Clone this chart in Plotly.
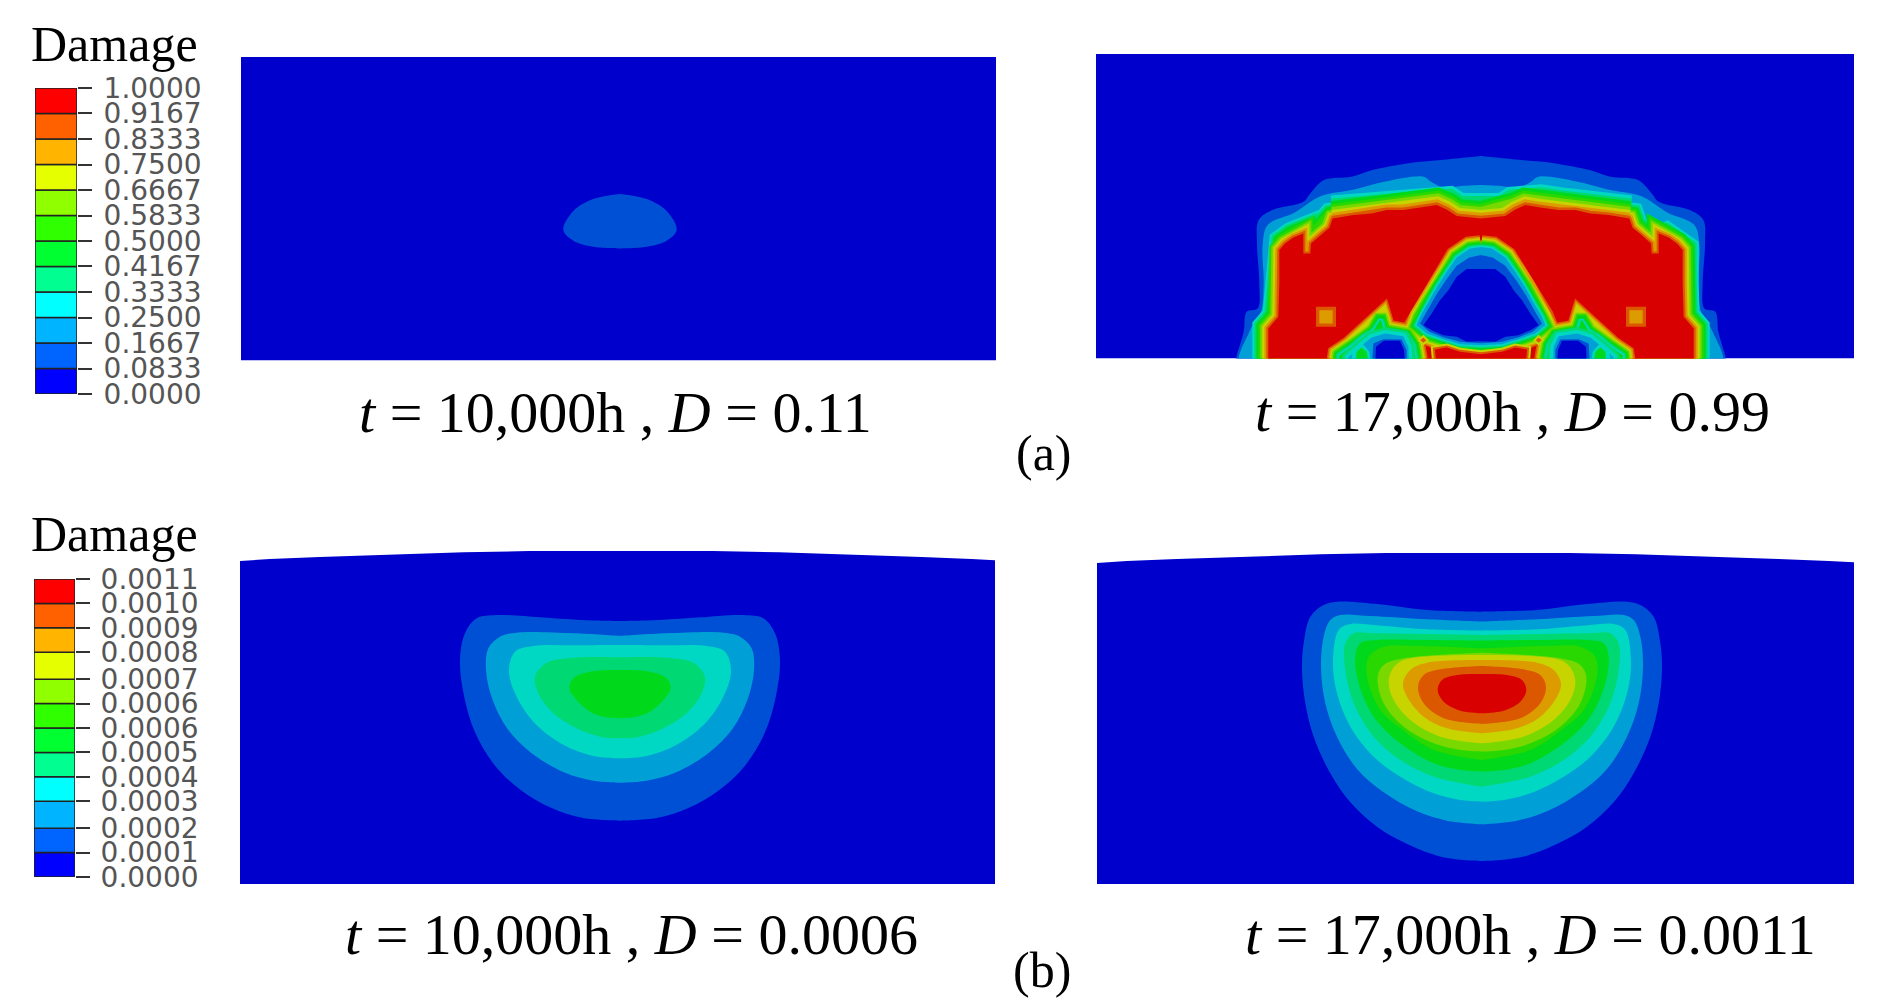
import plotly.graph_objects as go

W, H = 1877, 1008

# band colours, lowest first
legend_colors = ["#0000ff", "#0064ff", "#00b4ff", "#00ffff", "#00ff90", "#00ff30",
                 "#30ff00", "#90ff00", "#e6ff00", "#ffb400", "#ff6000", "#ff0000"]
band_colors = ["#0000cd", "#0050d6", "#00a0d6", "#00d8c4", "#00d874", "#00d81c",
               "#28d800", "#78d800", "#c8d400", "#dc9c00", "#dc5800", "#d80000"]

ticks_a = [0.0, 0.0833, 0.1667, 0.25, 0.3333, 0.4167, 0.5, 0.5833, 0.6667, 0.75, 0.8333, 0.9167, 1.0]
labels_a = ["0.0000", "0.0833", "0.1667", "0.2500", "0.3333", "0.4167", "0.5000",
            "0.5833", "0.6667", "0.7500", "0.8333", "0.9167", "1.0000"]
ticks_b = [0.0, 0.00009, 0.00018, 0.00028, 0.00037, 0.00046, 0.00055,
           0.00064, 0.00073, 0.00083, 0.00092, 0.00101, 0.0011]
labels_b = ["0.0000", "0.0001", "0.0002", "0.0003", "0.0004", "0.0005", "0.0006",
            "0.0006", "0.0007", "0.0008", "0.0009", "0.0010", "0.0011"]

# contour outlines: (distance from the symmetry line, height above the base)
a1_level1 = [(0, 499), (80, 484), (140, 448), (170, 391), (140, 359), (80, 341), (0, 336)]

a2_red = [(638, -30), (638, 0), (638, 90), (608, 125), (605, 225), (605, 325), (588, 345), (563, 363),
          (533, 375), (533, 315), (512, 315), (510, 345), (480, 372), (455, 392), (445, 420), (383, 430),
          (328, 435), (283, 445), (233, 445), (178, 453), (133, 460), (103, 447), (73, 427), (0, 420)]
a2_red_top = [(445, 420), (383, 430), (328, 435), (283, 445), (233, 445), (178, 453), (133, 460),
              (103, 447), (73, 427), (0, 420)]
a2_dome1 = [(0, 607), (120, 595), (223, 585), (326, 565), (388, 545), (471, 535), (512, 495), (533, 470),
            (626, 445), (667, 415), (672, 344), (665, 225), (670, 150), (703, 140), (712, 80), (735, 0), (740, -30)]
a2_dome2 = [(0, 520), (60, 517), (110, 512), (150, 530), (172, 545), (290, 530), (380, 507), (480, 487),
            (560, 437), (640, 400), (655, 340), (652, 225), (660, 140), (695, 80), (720, -30)]
a2_hole_l2 = [(0, 334), (33, 330), (73, 303), (103, 260), (133, 213), (158, 167), (183, 125), (193, 100),
              (163, 75), (113, 58), (63, 43), (0, 40)]
a2_hole_l1 = [(0, 310), (35, 303), (73, 278), (105, 235), (135, 190), (160, 145), (183, 105), (155, 80),
              (113, 64), (63, 50), (0, 46)]
a2_hole_core = [(0, 268), (43, 268), (73, 245), (98, 205), (123, 175), (148, 135), (173, 100), (148, 85),
                (113, 70), (73, 65), (43, 50), (0, 52)]
a2_side = [(432, -35), (425, 10), (388, 35), (353, 65), (323, 82), (304, 115), (300, 115), (290, 82),
           (253, 77), (223, 70), (203, 40), (190, -35)]
a2_side_l2 = [(403, -35), (398, 3), (363, 35), (328, 63), (288, 75), (233, 67), (218, 35), (215, -35)]
a2_side_l1 = [(328, -35), (323, 45), (293, 58), (238, 57), (223, 25), (223, -35)]
a2_side_core = [(318, -35), (315, 35), (291, 53), (243, 53), (231, 25), (226, -35)]
a2_bump_l3 = [(393, -35), (385, 20), (360, 50), (335, 20), (328, -35)]
a2_bump_l5 = [(378, -35), (373, 20), (358, 33), (343, 20), (333, -35)]
a2_island = [(133, -30), (138, 27), (103, 33), (63, 20), (0, 13)]
a2_diamond_l8 = [(173, 71), (190, 55), (173, 39), (156, 55)]
a2_diamond_l10 = [(173, 63), (182, 55), (173, 47), (164, 55)]
a2_square_l10 = [(435, 95), (495, 95), (495, 155), (435, 155)]
a2_square_l9 = [(445, 105), (485, 105), (485, 145), (445, 145)]

b1_levels = [
    [(0, 789), (120, 792), (240, 800), (370, 807), (430, 797), (465, 752), (480, 672), (468, 565), (435, 455),
     (375, 355), (295, 280), (205, 228), (110, 198), (0, 190)],
    [(0, 744), (140, 752), (310, 754), (360, 742), (395, 707), (402, 642), (383, 555), (335, 462), (255, 385),
     (165, 334), (80, 310), (0, 304)],
    [(0, 717), (140, 716), (260, 714), (315, 697), (333, 642), (315, 572), (260, 487), (170, 418), (80, 384), (0, 377)],
    [(0, 680), (140, 679), (220, 664), (255, 622), (245, 572), (200, 512), (130, 467), (60, 442), (0, 437)],
    [(0, 642), (90, 637), (140, 617), (152, 587), (130, 552), (90, 517), (40, 500), (0, 497)],
]
b2_levels = [
    [(0, 817), (165, 822), (315, 840), (435, 847), (475, 837), (515, 802), (535, 722), (540, 642), (530, 542),
     (505, 442), (455, 332), (395, 245), (315, 172), (235, 125), (135, 85), (55, 72), (0, 69)],
    [(0, 787), (165, 794), (335, 804), (425, 807), (455, 792), (475, 742), (483, 652), (470, 542), (435, 442),
     (375, 345), (295, 275), (195, 218), (105, 190), (0, 179)],
    [(0, 760), (165, 764), (325, 777), (395, 780), (430, 762), (447, 662), (435, 572), (395, 472), (325, 382),
     (245, 322), (145, 272), (65, 252), (0, 247)],
    [(0, 747), (325, 752), (385, 752), (410, 722), (410, 642), (385, 542), (325, 442), (245, 372), (145, 322), (0, 292)],
    [(0, 730), (165, 732), (315, 732), (365, 722), (380, 682), (370, 602), (325, 502), (245, 422), (145, 362), (65, 342), (0, 337)],
    [(0, 707), (215, 715), (295, 712), (340, 682), (345, 622), (305, 522), (245, 467), (145, 402), (0, 372)],
    [(0, 694), (235, 677), (295, 657), (313, 622), (295, 542), (235, 472), (145, 422), (65, 402), (0, 397)],
    [(0, 687), (235, 672), (270, 642), (280, 602), (265, 552), (215, 492), (125, 442), (0, 422)],
    [(0, 672), (165, 664), (215, 642), (237, 602), (225, 562), (175, 502), (105, 467), (0, 452)],
    [(0, 654), (125, 644), (175, 627), (192, 592), (175, 542), (115, 497), (0, 480)],
    [(0, 630), (75, 627), (120, 612), (133, 582), (115, 547), (65, 520), (0, 512)],
]

# top surface of the (b) models
b1_top_x = [-1140, -1051, -901, -717, -607, -469, -273, 278, 477, 612, 725, 820, 905, 1055, 1125]
b1_top_h = [969, 975, 981, 987, 991, 995, 999, 999, 995, 991, 987, 985, 981, 975, 971]
b2_top_x = [-1155, -1066, -916, -732, -622, -484, -288, 263, 462, 597, 710, 805, 890, 1040, 1116]
b2_top_h = [963, 969, 975, 981, 985, 989, 993, 993, 989, 985, 981, 979, 975, 969, 965]

serif = "Liberation Serif"
captions = [("<i>t</i> = 10,000h , <i>D</i> = 0.11", 615, 412),
            ("<i>t</i> = 17,000h , <i>D</i> = 0.99", 1512, 411),
            ("<i>t</i> = 10,000h , <i>D</i> = 0.0006", 631, 934),
            ("<i>t</i> = 17,000h , <i>D</i> = 0.0011", 1530, 934)]
small_labels = [("(a)", 1044, 453, 50), ("(b)", 1042, 970, 50),
                ("Damage", 114, 44, 50), ("Damage", 114, 534, 50)]


def mirror(points):
    xs = [-p[0] for p in points] + [p[0] for p in reversed(points)]
    ys = [p[1] for p in points] + [p[1] for p in reversed(points)]
    return xs + xs[:1], ys + ys[:1]


def both_sides(points):
    xs = [-p[0] for p in points] + [-points[0][0], None] + [p[0] for p in points] + [points[0][0]]
    ys = [p[1] for p in points] + [points[0][1], None] + [p[1] for p in points] + [points[0][1]]
    return xs, ys


fig = go.Figure()


def area(ax, xy, color, stroke=0, shape="linear"):
    x, y = xy
    fig.add_trace(go.Scatter(x=x, y=y, xaxis="x" + ax, yaxis="y" + ax, mode="lines", fill="toself",
                             fillcolor=color, hoverinfo="skip", showlegend=False,
                             line=dict(color=color, width=stroke, shape=shape)))


def stroke_only(ax, xy, color, width):
    fig.add_trace(go.Scatter(x=xy[0], y=xy[1], xaxis="x" + ax, yaxis="y" + ax, mode="lines",
                             hoverinfo="skip", showlegend=False, line=dict(color=color, width=width)))


# panel a1
area("1", mirror(a1_level1), band_colors[1], shape="spline")

# panel a2: outer dome, then bands around the red region (bands run wider along the top)
area("2", mirror(a2_dome1), band_colors[1], shape="spline")
area("2", mirror(a2_dome2), band_colors[2], shape="spline")
top_arc = ([-p[0] for p in a2_red_top] + [p[0] for p in reversed(a2_red_top)],
           [p[1] for p in a2_red_top] + [p[1] for p in reversed(a2_red_top)])
for i, c in enumerate(band_colors[3:11]):
    area("2", mirror(a2_red), c, stroke=32 - 4 * i)
    stroke_only("2", top_arc, c, 46 - 5.8 * i)
area("2", mirror(a2_red), band_colors[11])
area("2", both_sides(a2_square_l10), band_colors[10])
area("2", both_sides(a2_square_l9), band_colors[9])

# panel a2: web around the central and side holes
hole_x, hole_y = mirror(a2_hole_l2)
side_x, side_y = both_sides(a2_side)
web = (hole_x + [None] + side_x, hole_y + [None] + side_y)
for i, c in enumerate(reversed(band_colors[3:11])):
    area("2", web, c, stroke=24 - 3 * i)
area("2", mirror(a2_hole_l2), band_colors[2])
area("2", both_sides(a2_side), band_colors[5])
area("2", both_sides(a2_side_l2), band_colors[4], stroke=12)
area("2", both_sides(a2_side_l2), band_colors[3], stroke=7)
area("2", both_sides(a2_side_l2), band_colors[2])
area("2", mirror(a2_hole_l1), band_colors[1])
area("2", mirror(a2_hole_core), band_colors[0])
area("2", both_sides(a2_side_l1), band_colors[1])
area("2", both_sides(a2_side_core), band_colors[0])
area("2", both_sides(a2_bump_l3), band_colors[3])
area("2", both_sides(a2_bump_l5), band_colors[5])
area("2", mirror(a2_island), band_colors[8], stroke=8)
area("2", mirror(a2_island), band_colors[10], stroke=4)
area("2", mirror(a2_island), band_colors[11])
area("2", both_sides(a2_diamond_l8), band_colors[8])
area("2", both_sides(a2_diamond_l10), band_colors[10])

# panels b1, b2
area("3", (b1_top_x + [1125, -1140, -1140], b1_top_h + [-10, -10, 969]), band_colors[0])
for i, lev in enumerate(b1_levels):
    area("3", mirror(lev), band_colors[i + 1], shape="spline")
area("4", (b2_top_x + [1116, -1155, -1155], b2_top_h + [-10, -10, 963]), band_colors[0])
for i, lev in enumerate(b2_levels):
    area("4", mirror(lev), band_colors[i + 1], shape="spline")

# colour legends
for ax, ticks in (("5", ticks_a), ("6", ticks_b)):
    for i, c in enumerate(legend_colors):
        fig.add_trace(go.Bar(x=[0], y=[ticks[i + 1] - ticks[i]], base=[ticks[i]], width=1,
                             xaxis="x" + ax, yaxis="y" + ax, marker=dict(color=c, line=dict(color="#222222", width=1.5)),
                             cliponaxis=False, hoverinfo="skip", showlegend=False))


def panel_axes(n, left, right, top, bottom, xr, yr):
    hidden = dict(visible=False, showgrid=False, zeroline=False, fixedrange=True, automargin=False)
    fig.layout["xaxis" + n] = dict(domain=[left / W, right / W], range=xr, anchor="y" + n, **hidden)
    fig.layout["yaxis" + n] = dict(domain=[1 - bottom / H, 1 - top / H], range=yr, anchor="x" + n, **hidden)


panel_axes("", 241, 996, 57, 360.5, [-1137, 1128], [0, 910])
panel_axes("2", 1096, 1854, 54, 358.5, [-1155, 1119], [0, 913])
panel_axes("3", 240, 995, 540, 884, [-1140, 1125], [0, 1032])
panel_axes("4", 1097, 1854, 540, 884, [-1155, 1116], [0, 1032])
panel_axes("5", 35, 77, 88, 394, [-0.5, 0.5], [0, 1])
panel_axes("6", 34, 75, 579, 877, [-0.5, 0.5], [0, 0.0011])
for n, ticks, labels, off in (("5", ticks_a, labels_a, 6), ("6", ticks_b, labels_b, 5)):
    fig.layout["yaxis" + n].update(visible=True, side="right", tickmode="array", tickvals=ticks, ticktext=labels,
                                   ticks="outside", ticklen=14, tickwidth=2, tickcolor="#333333", showline=False,
                                   ticklabelstandoff=off,
                                   tickfont=dict(family="DejaVu Sans", size=28, color="#555555"))

for text, x, y in captions:
    fig.add_annotation(text=text, x=x / W, y=1 - y / H, xref="paper", yref="paper", showarrow=False,
                       xanchor="center", yanchor="middle", font=dict(family=serif, size=58, color="black"))
for text, x, y, s in small_labels:
    fig.add_annotation(text=text, x=x / W, y=1 - y / H, xref="paper", yref="paper", showarrow=False,
                       xanchor="center", yanchor="middle", font=dict(family=serif, size=s, color="black"))

fig.update_layout(width=W, height=H, margin=dict(l=0, r=0, t=0, b=0), paper_bgcolor="white",
                  plot_bgcolor="white", barmode="overlay")
# the a panels are solid blue behind the contours
fig.add_shape(type="rect", xref="x", yref="y", x0=-1137, x1=1128, y0=0, y1=910, layer="below",
              fillcolor=band_colors[0], line_width=0)
fig.add_shape(type="rect", xref="x2", yref="y2", x0=-1155, x1=1119, y0=0, y1=913, layer="below",
              fillcolor=band_colors[0], line_width=0)

fig.write_html("out.html", config={"displayModeBar": False},
               post_script="document.body.style.margin='0';")
